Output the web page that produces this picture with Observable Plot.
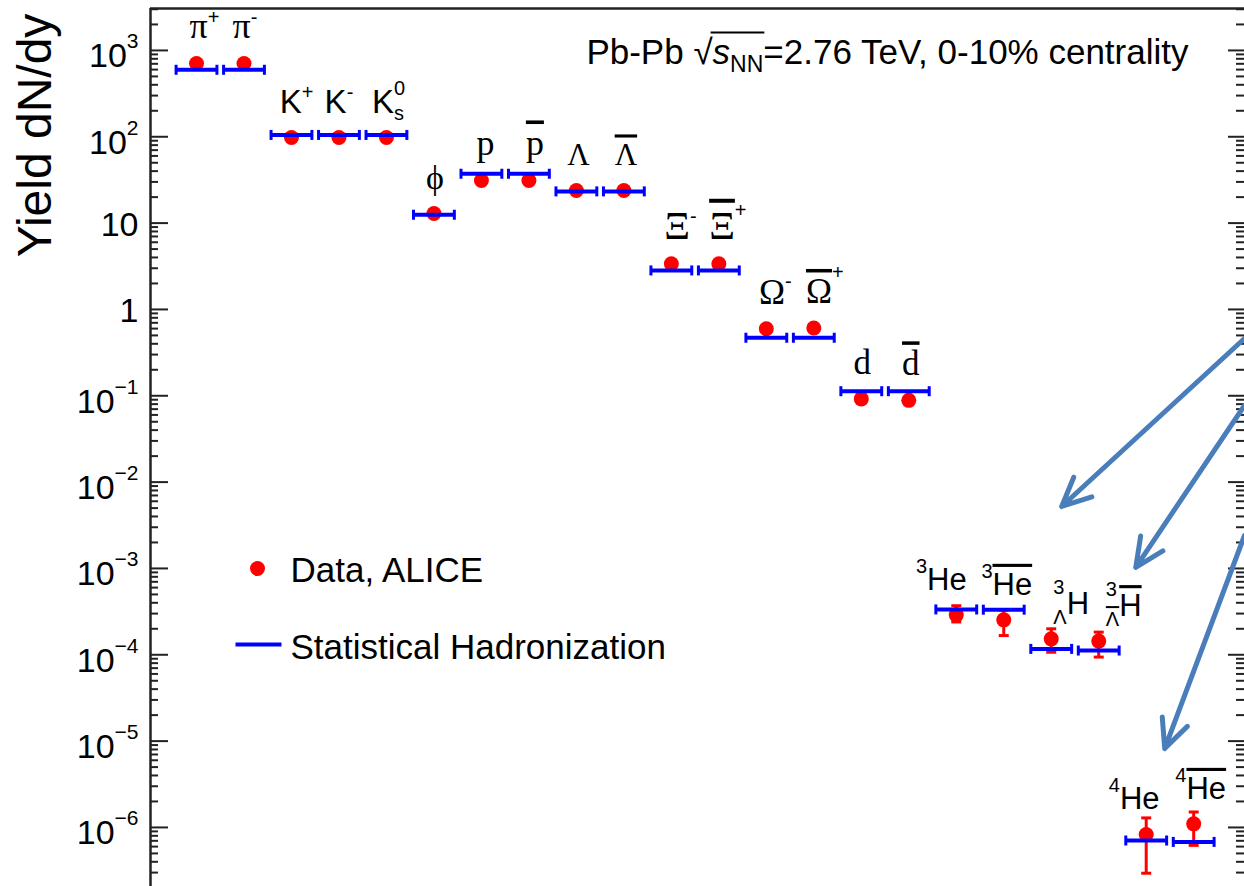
<!DOCTYPE html>
<html><head><meta charset="utf-8">
<script src="https://cdn.jsdelivr.net/npm/d3@7"></script>
<script src="https://cdn.jsdelivr.net/npm/@observablehq/plot@0.6"></script>
<style>
html,body{margin:0;padding:0;background:#fff;overflow:hidden;}
#chart svg{display:block;}
#chart text{white-space:pre;}
</style></head><body><div id="chart"></div>
<script>
// ---------- data ----------
const particles = ["π+","π−","K+","K−","K0S","φ","p","p̄","Λ","Λ̄","Ξ−","Ξ̄+","Ω−","Ω̄+","d","d̄","3He","3He̅","3ΛH","3ΛH̄","4He","4He̅"];
const dataYield = [706,706,98,98,98,12.9,31.2,31.2,23.9,23.9,3.38,3.38,0.597,0.61,0.092,0.0885,2.9e-4,2.54e-4,1.53e-4,1.44e-4,8.3e-7,1.10e-6];
const errLow  = [null,null,null,null,null,null,null,null,null,null,null,null,null,null,null,null,2.4e-4,1.67e-4,1.07e-4,9.4e-5,2.95e-7,6.2e-7];
const errHigh = [null,null,null,null,null,null,null,null,null,null,null,null,null,null,null,null,3.7e-4,3.3e-4,2.0e-4,1.83e-4,1.29e-6,1.51e-6];
const modelYield = [597,597,105,105,105,12.5,37.3,37.3,23.3,23.3,2.83,2.83,0.47,0.47,0.113,0.113,3.35e-4,3.33e-4,1.17e-4,1.12e-4,7.06e-7,6.8e-7];
const majorTicks = [1e-6,1e-5,1e-4,1e-3,1e-2,1e-1,1,10,100,1000];
const tickBase = ["10","10","10","10","10","10","1","10","10","10"];
const tickExp  = ["−6","−5","−4","−3","−2","−1","","","2","3"];
const legendLabels = ["Data, ALICE","Statistical Hadronization"];
const titleText = "Pb-Pb √sNN=2.76 TeV, 0-10% centrality";
const yTitle = "Yield dN/dy";
// annotation arrows (data units: particle index, yield)
const arrowStartX = [22.07,22.07,22.07];
const arrowStartY = [0.461,0.0773,2.41e-3];
const arrowEndX = [18.22,19.78,20.39];
const arrowEndY = [5.22e-3,1.03e-3,8.2e-6];

const xDomain = [-0.969, 22.07];
const yDomain = [2.07e-7, 3060];

// ---------- build tables ----------
const rows = particles.map((name, i) => ({name, i, data: dataYield[i], model: modelYield[i], lo: errLow[i], hi: errHigh[i]}));
const errRows = rows.filter(d => d.lo != null);
const arrows = arrowStartX.map((x, k) => ({x1: x, y1: arrowStartY[k], x2: arrowEndX[k], y2: arrowEndY[k]}));
const minorTicks = [];
for (let e = -7; e <= 3; e++) for (let k = 2; k <= 9; k++) {
  const v = k * Math.pow(10, e);
  if (v > yDomain[0] && v < yDomain[1]) minorTicks.push(v);
}
const tickKeys = tickBase.map((b, i) => tickExp[i] ? b + "^" + tickExp[i] : b);

// ---------- style ----------
const RED = "#ff0000", BLUE = "#0000ff", ARROW = "#4a7ebb", AX = "#222";
const SER = "'Liberation Serif', 'Times New Roman', serif";
const SAN = "'Liberation Sans', Arial, Helvetica, sans-serif";
const halfW = 0.43;
const vTick = {draw(ctx, size) { const r = Math.sqrt(size / Math.PI); ctx.moveTo(0, -r); ctx.lineTo(0, r); }};
const hTick = {draw(ctx, size) { const r = Math.sqrt(size / Math.PI); ctx.moveTo(-r, 0); ctx.lineTo(r, 0); }};

const seg = (t, o = {}) => ({t, f: SAN, s: 32, shift: 0, ...o});
const sup = (t, o = {}) => ({t, f: SAN, s: 20, shift: -14, ...o});
const sub = (t, o = {}) => ({t, f: SAN, s: 20, shift: 8, ...o});
const rich = {
  "π+": {nudge: 8, segs: [seg("π", {f: SER, s: 36}), sup("+")]},
  "π−": {nudge: 1, segs: [seg("π", {f: SER, s: 36}), sup("-")]},
  "K+": {nudge: 5, segs: [seg("K", {s: 33}), sup("+")]},
  "K−": {nudge: 0, segs: [seg("K", {s: 33}), sup("-")]},
  "K0S": {nudge: 2, segs: [seg("K", {s: 33}), sup("0", {shift: -18}), sub("s", {stack: true, shift: 7})]},
  "φ": {nudge: 1, segs: [seg("ϕ", {f: SER, s: 34})]},
  "p": {nudge: 4, segs: [seg("p", {f: SER, s: 36})]},
  "p̄": {nudge: 6, segs: [seg("p", {f: SER, s: 36, over: true})]},
  "Λ": {nudge: 2, segs: [seg("Λ", {f: SER, s: 31})]},
  "Λ̄": {nudge: 2, segs: [seg("Λ", {f: SER, s: 31, over: true})]},
  "Ξ−": {nudge: 9, segs: [seg("Ξ", {f: SER, s: 40}), sup("-", {shift: -16})]},
  "Ξ̄+": {nudge: 9, segs: [seg("Ξ", {f: SER, s: 40, over: true}), sup("+", {shift: -22})]},
  "Ω−": {nudge: 9, segs: [seg("Ω", {f: SER, s: 35}), sup("-", {shift: -16})]},
  "Ω̄+": {nudge: 11, segs: [seg("Ω", {f: SER, s: 35, over: true}), sup("+", {shift: -24})]},
  "d": {nudge: 1, segs: [seg("d", {f: SER, s: 35})]},
  "d̄": {nudge: 2, segs: [seg("d", {f: SER, s: 35, over: true})]},
  "3He": {nudge: -15, segs: [sup("3", {shift: -17}), seg("He", {s: 31})]},
  "3He̅": {nudge: 3, segs: [sup("3", {shift: -17}), seg("He", {s: 31, over: true})]},
  "3ΛH": {nudge: 20, segs: [sup("3", {shift: -20}), sub("Λ", {stack: true, shift: 10}), seg("H", {s: 31})]},
  "3ΛH̄": {nudge: 25, segs: [sup("3", {shift: -20}), sub("Λ", {stack: true, shift: 10, over: true}), seg("H", {s: 31, over: true})]},
  "4He": {nudge: -12, segs: [sup("4", {shift: -17}), seg("He", {s: 31})]},
  "4He̅": {nudge: 7, segs: [sup("4", {shift: -17}), seg("He", {s: 31, over: true})]},
  [titleText]: {nudge: 0, segs: [seg("Pb-Pb ", {s: 35}), seg("√", {s: 35}), seg("s", {s: 35, it: true, rad: true}), sub("NN", {s: 23, shift: 8, rad: true}), seg("=2.76 TeV, 0-10% centrality", {s: 35})]}
};
tickKeys.forEach((k, i) => {
  rich[k] = {nudge: 0, segs: tickExp[i]
    ? [seg(tickBase[i], {s: 34}), sup(tickExp[i], {s: 21, shift: -19})]
    : [seg(tickBase[i], {s: 34, shift: -4})]};
});

// ---------- plot ----------
const plot = Plot.plot({
  width: 1244, height: 886,
  marginLeft: 150, marginRight: 0, marginTop: 8, marginBottom: 0,
  x: {type: "linear", domain: xDomain, axis: null},
  y: {type: "log", domain: yDomain, axis: null},
  style: {background: "#fff", color: "#000"},
  marks: [
    // frame (top and left)
    Plot.ruleY([yDomain[1]], {stroke: AX, strokeWidth: 2.5}),
    Plot.ruleX([xDomain[0]], {stroke: AX, strokeWidth: 2.5}),
    // inward ticks left and right
    Plot.axisY(majorTicks, {anchor: "left", tickSize: 18, dx: 18, stroke: AX, strokeWidth: 2, fill: "none", label: null}),
    Plot.axisY(minorTicks, {anchor: "left", tickSize: 8, dx: 8, stroke: AX, strokeWidth: 2, fill: "none", label: null}),
    Plot.axisY(majorTicks, {anchor: "right", tickSize: 17, dx: -17, stroke: AX, strokeWidth: 2, fill: "none", label: null}),
    Plot.axisY(minorTicks, {anchor: "right", tickSize: 9, dx: -9, stroke: AX, strokeWidth: 2, fill: "none", label: null}),
    // tick labels
    Plot.text(majorTicks, {y: d => d, text: (d, i) => tickKeys[i], frameAnchor: "left", dx: -12, dy: 6, textAnchor: "end", lineAnchor: "middle", fontSize: 34, fontFamily: SAN, fill: "#000"}),
    // y title
    Plot.text([yTitle], {text: d => d, frameAnchor: "top-left", dx: -100, dy: 127, rotate: -90, textAnchor: "middle", lineAnchor: "bottom", fontSize: 48, fontFamily: SAN, fill: "#000"}),
    // data: error bars, dots
    Plot.ruleX(errRows, {x: "i", y1: "lo", y2: "hi", stroke: RED, strokeWidth: 3}),
    Plot.dot(errRows, {x: "i", y: "lo", symbol: hTick, r: 5, stroke: RED, strokeWidth: 3, fill: "none"}),
    Plot.dot(errRows, {x: "i", y: "hi", symbol: hTick, r: 5, stroke: RED, strokeWidth: 3, fill: "none"}),
    Plot.dot(rows, {x: "i", y: "data", r: 7.5, fill: RED, stroke: "none"}),
    // model bars
    Plot.ruleY(rows, {y: "model", x1: d => d.i - halfW, x2: d => d.i + halfW, stroke: BLUE, strokeWidth: 4}),
    Plot.dot(rows, {x: d => d.i - halfW, y: "model", symbol: vTick, r: 5, stroke: BLUE, strokeWidth: 3, fill: "none"}),
    Plot.dot(rows, {x: d => d.i + halfW, y: "model", symbol: vTick, r: 5, stroke: BLUE, strokeWidth: 3, fill: "none"}),
    // particle labels
    Plot.text(rows, {x: "i", y: "data", text: "name", dy: -25, lineAnchor: "bottom", textAnchor: "middle", fontSize: 32, fontFamily: SAN, fill: "#000"}),
    // title
    Plot.text([titleText], {text: d => d, frameAnchor: "top-right", dx: -56, dy: 55, textAnchor: "end", lineAnchor: "bottom", fontSize: 35, fontFamily: SAN, fill: "#000"}),
    // legend
    Plot.dot([legendLabels[0]], {frameAnchor: "top-left", dx: 107, dy: 560, r: 7.5, fill: RED}),
    Plot.dot([legendLabels[1]], {frameAnchor: "top-left", dx: 108, dy: 636, symbol: hTick, r: 23, stroke: BLUE, strokeWidth: 4, fill: "none"}),
    Plot.text([legendLabels[0]], {text: d => d, frameAnchor: "top-left", dx: 140, dy: 562, textAnchor: "start", lineAnchor: "middle", fontSize: 35, fontFamily: SAN, fill: "#000"}),
    Plot.text([legendLabels[1]], {text: d => d, frameAnchor: "top-left", dx: 140, dy: 639, textAnchor: "start", lineAnchor: "middle", fontSize: 35, fontFamily: SAN, fill: "#000"}),
    // arrows
    Plot.arrow(arrows, {x1: "x1", y1: "y1", x2: "x2", y2: "y2", stroke: ARROW, strokeWidth: 5, headAngle: 50, headLength: 9.5})
  ]
});
document.getElementById("chart").append(plot);

// ---------- rich text (superscripts, subscripts, overlines) ----------
const svgNS = "http://www.w3.org/2000/svg";
plot.querySelectorAll("text").forEach(el => {
  const spec = rich[el.textContent];
  if (!spec) return;
  el.textContent = "";
  let cur = 0, prev = null;
  const radSpans = [];
  for (const s of spec.segs) {
    const ts = document.createElementNS(svgNS, "tspan");
    ts.textContent = s.t;
    ts.setAttribute("font-family", s.f);
    ts.setAttribute("font-size", s.s);
    if (s.it) ts.setAttribute("font-style", "italic");
    if (s.over) { ts.style.textDecoration = "overline"; ts.style.textDecorationThickness = "2px"; }
    ts.setAttribute("dy", s.shift - cur);
    cur = s.shift;
    el.appendChild(ts);
    if (s.stack && prev) ts.setAttribute("dx", -prev.getComputedTextLength());
    if (s.rad) radSpans.push(ts);
    prev = ts;
  }
  if (spec.nudge) {
    const tr = el.getAttribute("transform") || "";
    el.setAttribute("transform", (tr + ` translate(${spec.nudge},0)`).trim());
  }
  if (radSpans.length) {
    const a = radSpans[0], b = radSpans[radSpans.length - 1];
    const p0 = a.getStartPositionOfChar(0);
    const p1 = b.getEndPositionOfChar(b.getNumberOfChars() - 1);
    const ln = document.createElementNS(svgNS, "line");
    ln.setAttribute("x1", p0.x - 2); ln.setAttribute("x2", p1.x + 1);
    ln.setAttribute("y1", p0.y - 31); ln.setAttribute("y2", p0.y - 31);
    ln.setAttribute("stroke", "#000"); ln.setAttribute("stroke-width", 2);
    const tr = el.getAttribute("transform");
    if (tr) ln.setAttribute("transform", tr);
    el.parentNode.appendChild(ln);
  }
});
</script></body></html>
